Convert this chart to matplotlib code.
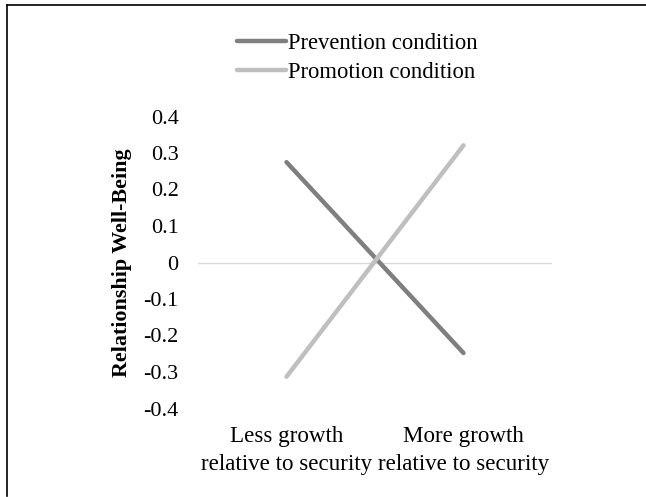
import matplotlib
matplotlib.use("Agg")
import matplotlib.pyplot as plt
from matplotlib.lines import Line2D

# data
categories = ["Less growth\nrelative to security", "More growth\nrelative to security"]
prevention = [0.275, -0.248]
promotion = [-0.313, 0.321]
yticks = [0.4, 0.3, 0.2, 0.1, 0, -0.1, -0.2, -0.3, -0.4]
ytick_labels = ["0.4", "0.3", "0.2", "0.1", "0", "-0.1", "-0.2", "-0.3", "-0.4"]

plt.rcParams["font.family"] = ["Liberation Serif", "DejaVu Serif"]

fig = plt.figure(figsize=(6.46, 4.97), dpi=100)
ax = fig.add_axes([198 / 646, 1 - 408.5 / 497, 354 / 646, 292 / 497])

x = [0, 1]
ax.plot(x, prevention, color="#7f7f7f", lw=3.2, solid_capstyle="round",
        label="Prevention condition", zorder=3)
ax.plot(x, promotion, color="#bfbfbf", lw=3.2, solid_capstyle="round",
        label="Promotion condition", zorder=3)
ax.axhline(0, color="#d9d9d9", lw=1, zorder=1)

ax.set_xlim(-0.5, 1.5)
ax.set_ylim(-0.4, 0.4)
ax.set_xticks(x)
ax.set_xticklabels(categories, fontsize=16.6, linespacing=1.44)
ax.set_yticks(yticks)
ax.set_yticklabels(ytick_labels, fontsize=16)
ax.tick_params(axis="both", length=0)
ax.tick_params(axis="y", pad=14)
ax.tick_params(axis="x", pad=12.8)
for s in ax.spines.values():
    s.set_visible(False)

ax.set_ylabel("Relationship Well-Being", fontsize=15.8, fontweight="bold")
ax.yaxis.set_label_coords(-(198 - 132) / 354, 0.5)

fig.legend(loc="upper left", bbox_to_anchor=(237 / 646, 1 - 33 / 497),
           frameon=False, fontsize=16.3, handlelength=2.15, handletextpad=0.1,
           labelspacing=0.35, borderaxespad=0, borderpad=0)

# partial frame like the source image (top and left edges only)
fig.add_artist(Line2D([7 / 646, 1], [1 - 5 / 497, 1 - 5 / 497],
                      transform=fig.transFigure, color="black", lw=1.2))
fig.add_artist(Line2D([7 / 646, 7 / 646], [1 - 5 / 497, 0.003],
                      transform=fig.transFigure, color="black", lw=1.2))

fig.savefig("out.png", dpi=100)
